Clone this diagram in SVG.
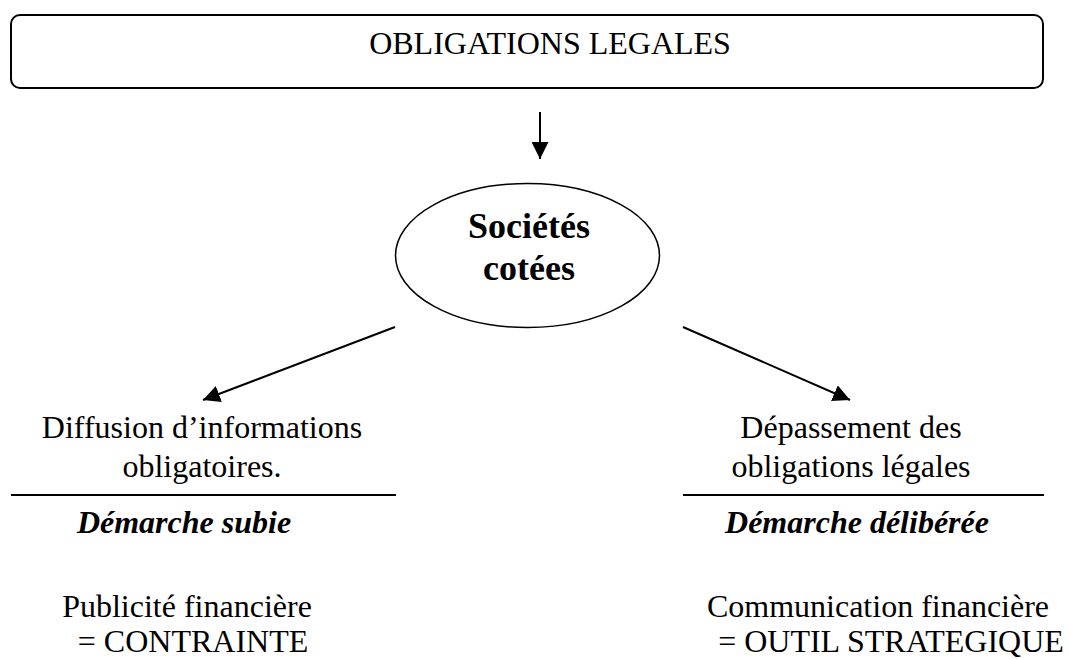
<svg xmlns="http://www.w3.org/2000/svg" width="1070" height="659" viewBox="0 0 1070 659">
<style>
text{font-family:"Liberation Serif","Times New Roman",serif;fill:#000;font-size:32px}
.b{font-weight:bold;font-size:36px}
.bi{font-weight:bold;font-style:italic}
.m{text-anchor:middle}
.line{stroke:#000;stroke-width:2;fill:none}
</style>
<defs>
<marker id="arr" viewBox="0 0 16 16" refX="16" refY="8" markerWidth="17" markerHeight="17" orient="auto" markerUnits="userSpaceOnUse">
<path d="M0,0 L16,8 L0,16 Z" fill="#000"/>
</marker>
</defs>
<g id="obligations">
<rect x="11" y="15" width="1032" height="73" rx="9" ry="9" fill="#fff" stroke="#000" stroke-width="2"/>
<text x="550" y="54" class="m">OBLIGATIONS LEGALES</text>
</g>
<g id="societes">
<ellipse cx="527.5" cy="255.5" rx="132" ry="72" fill="#fff" stroke="#000" stroke-width="1.5"/>
<text x="529" y="238" class="m b">Sociétés</text>
<text x="529" y="280" class="m b">cotées</text>
</g>
<g id="left">
<text x="202" y="438" class="m">Diffusion d’informations</text>
<text x="202" y="477" class="m">obligatoires.</text>
<line x1="11" y1="495" x2="396" y2="495" class="line"/>
<text x="184" y="533" class="m bi">Démarche subie</text>
<text x="187" y="617" class="m">Publicité financière</text>
<text x="193" y="652" class="m">= CONTRAINTE</text>
</g>
<g id="right">
<text x="851" y="438" class="m">Dépassement des</text>
<text x="851" y="477" class="m">obligations légales</text>
<line x1="683" y1="495" x2="1044" y2="495" class="line"/>
<text x="857" y="533" class="m bi">Démarche délibérée</text>
<text x="878" y="617" class="m">Communication financière</text>
<text x="891" y="652" class="m">= OUTIL STRATEGIQUE</text>
</g>
<g id="connectors">
<line x1="540" y1="112" x2="540" y2="159" class="line" marker-end="url(#arr)"/>
<line x1="395" y1="327" x2="203" y2="400" class="line" marker-end="url(#arr)"/>
<line x1="683" y1="327" x2="850" y2="400" class="line" marker-end="url(#arr)"/>
</g>
</svg>
